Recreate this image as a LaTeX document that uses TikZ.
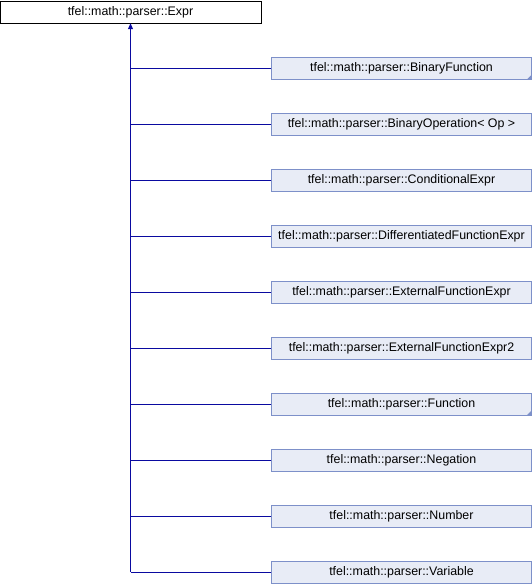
\documentclass[tikz,border=0pt]{standalone}
\usepackage{fontspec}
\setmainfont{Liberation Sans}
\usetikzlibrary{arrows.meta}
\definecolor{edgeblue}{HTML}{0A0AA0}
\definecolor{boxfill}{HTML}{E8ECF6}
\definecolor{boxborder}{HTML}{7D90C9}

\begin{document}
\begin{tikzpicture}[x=1pt,y=-1pt,
  base/.style={draw=black,fill=white,minimum width=261pt,minimum height=22pt,inner sep=0pt,font=\fontsize{12.4}{14}\selectfont},
  derived/.style={draw=boxborder,fill=boxfill,minimum width=260pt,minimum height=22pt,inner sep=0pt,font=\fontsize{12.4}{14}\selectfont},
  inherit/.style={draw=edgeblue,line width=0.9pt}]
\useasboundingbox (0,0) rectangle (532,584);
\node[base] (expr) at (130.5,12) {tfel::math::parser::Expr};
\coordinate (trunk) at (130.5,572);
\draw[inherit,-{Triangle[length=6pt,width=5pt]}] (trunk) -- (expr);
\foreach \cls [count=\i from 0] in {BinaryFunction, BinaryOperation< Op >, ConditionalExpr, DifferentiatedFunctionExpr, ExternalFunctionExpr, ExternalFunctionExpr2, Function, Negation, Number, Variable} {
  \node[derived] (d\i) at (401.5,68.5+55.94*\i) {tfel::math::parser::\cls};
  \draw[inherit] (d\i.west) -- (d\i.west -| expr.south);
}
% more subclasses below these two
\foreach \i in {0,6} \fill[boxborder] (d\i.south east) -- ++(-5,0) -- ++(5,-5) -- cycle;
\end{tikzpicture}
\end{document}
